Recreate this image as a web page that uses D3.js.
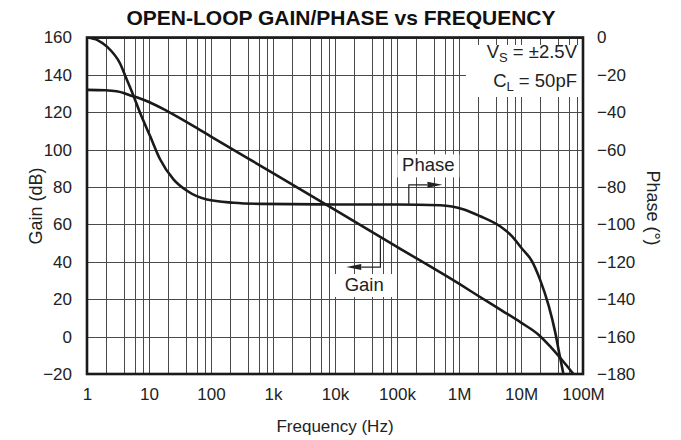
<!DOCTYPE html>
<html><head><meta charset="utf-8">
<script src="https://cdn.jsdelivr.net/npm/d3@7"></script>
<style>
html,body{margin:0;padding:0;background:#fff;}
svg{display:block;font-family:"Liberation Sans",Arial,Helvetica,sans-serif;}
</style></head>
<body>
<svg id="chart" width="681" height="440"></svg>
<script>
// ---- data ----
const title = "OPEN-LOOP GAIN/PHASE vs FREQUENCY";
const freqTicks = [1, 10, 100, 1e3, 1e4, 1e5, 1e6, 1e7, 1e8];
const freqTickLabels = ["1", "10", "100", "1k", "10k", "100k", "1M", "10M", "100M"];
const gainTicks = [-20, 0, 20, 40, 60, 80, 100, 120, 140, 160];
const phaseTicks = [-180, -160, -140, -120, -100, -80, -60, -40, -20, 0];
const minorMultipliers = [2, 4, 6, 8];

const gainFreq = [1, 2, 3, 4, 5, 7, 10, 20, 50, 100, 1e3, 1e4, 1e5, 1e6, 2e6, 5e6, 1e7, 2e7, 3e7, 5e7, 7e7];
const gainDb   = [132, 131.8, 131.2, 130.2, 129, 127.5, 125.5, 120.5, 113, 107, 87.5, 67.8, 48, 28.3, 22, 13.8, 7.5, 0.5, -5.5, -14, -20];

const phaseFreq = [1, 1.5, 2.1, 3.4, 4.2, 5.3, 7.2, 10.5, 15, 25, 41, 86, 230, 630, 1e4, 1e5, 5e5, 1.2e6, 2.2e6, 4.6e6, 7e6, 1.04e7, 1.5e7, 2e7, 2.8e7, 3.56e7, 4.2e7, 4.8e7];
const phaseDeg  = [0, -1.5, -4.9, -13.8, -21, -29, -40.4, -53, -65, -76, -82, -86.7, -88.4, -89, -89.3, -89.3, -89.7, -92, -95.6, -101, -106, -113, -119.6, -129, -143.6, -157.6, -170, -179.5];

const conditions = ["V|S| = ±2.5V", "C|L| = 50pF"];
// annotation anchors (data units)
const phaseArrow = {f0: 1.55e5, v0: -89.4, v1: -78.8, f1: 5.4e5, label: "Phase", lf: 3.2e5, lv: -71.6};
const gainArrow  = {f0: 5.4e4, v0: 52.5, v1: 37.2, f1: 1.52e4, label: "Gain", lf: 2.96e4, lv: 24.4};

// ---- layout ----
const X0 = 87, X1 = 583, Y0 = 37.5, Y1 = 374;
const svg = d3.select("#chart");
const x = d3.scaleLog().domain([1, 1e8]).range([X0, X1]);
const yG = d3.scaleLinear().domain([-20, 160]).range([Y1, Y0]);
const yP = d3.scaleLinear().domain([-180, 0]).range([Y1, Y0]);

const minus = s => String(s).replace("-", "\u2212");
const gridColor = "#4a4a4a";

// grid vertical
const vLines = [];
for (let k = 0; k < 8; k++) {
  vLines.push(freqTicks[k]);
  minorMultipliers.forEach(m => vLines.push(m * freqTicks[k]));
}
svg.append("g").selectAll("line").data(vLines).join("line")
  .attr("x1", d => Math.round(x(d)) + 0.5).attr("x2", d => Math.round(x(d)) + 0.5)
  .attr("y1", Y0).attr("y2", Y1)
  .attr("stroke", gridColor).attr("stroke-width", 1);
svg.append("g").selectAll("line").data(gainTicks).join("line")
  .attr("x1", X0).attr("x2", X1)
  .attr("y1", d => Math.round(yG(d)) + 0.5).attr("y2", d => Math.round(yG(d)) + 0.5)
  .attr("stroke", gridColor).attr("stroke-width", 1);

// white label boxes
const box = (x0, y0, w, h) => svg.append("rect").attr("x", x0).attr("y", y0).attr("width", w).attr("height", h).attr("fill", "#fff");
box(466, 45, X1 - 467, 52);

// curves
const clip = svg.append("clipPath").attr("id", "plotclip").append("rect")
  .attr("x", X0).attr("y", Y0).attr("width", X1 - X0).attr("height", Y1 - Y0);
const gainData = gainFreq.map((f, i) => [f, gainDb[i]]);
const phaseData = phaseFreq.map((f, i) => [f, phaseDeg[i]]);
svg.append("path").datum(gainData)
  .attr("clip-path", "url(#plotclip)")
  .attr("d", d3.line().x(d => x(d[0])).y(d => yG(d[1])).curve(d3.curveMonotoneX))
  .attr("fill", "none").attr("stroke", "#1a1a1a").attr("stroke-width", 2.6);
svg.append("path").datum(phaseData)
  .attr("clip-path", "url(#plotclip)")
  .attr("d", d3.line().x(d => x(d[0])).y(d => yP(d[1])).curve(d3.curveMonotoneX))
  .attr("fill", "none").attr("stroke", "#1a1a1a").attr("stroke-width", 2.6);

// annotations
function annotate(a, yS, dir) {
  const lx = x(a.lf), ly = yS(a.lv);
  box(lx - 31, ly - 17, 62, 23);
  svg.append("text").attr("x", lx).attr("y", ly).attr("text-anchor", "middle")
    .attr("font-size", 18.5).attr("fill", "#222").text(a.label);
  const xa = x(a.f0), ya = yS(a.v0), yb = yS(a.v1), xb = x(a.f1);
  const headLen = 15;
  const xh = xb - dir * headLen;
  svg.append("path").attr("d", `M${xa},${ya}V${yb}H${xh}`)
    .attr("fill", "none").attr("stroke", "#222").attr("stroke-width", 1.2);
  svg.append("path").attr("d", `M${xb},${yb}L${xh},${yb - 3}L${xh},${yb + 3}Z`).attr("fill", "#222");
}
annotate(phaseArrow, yP, 1);
annotate(gainArrow, yG, -1);

// border
svg.append("rect").attr("x", X0).attr("y", Y0).attr("width", X1 - X0).attr("height", Y1 - Y0)
  .attr("fill", "none").attr("stroke", "#1a1a1a").attr("stroke-width", 2.6);

// conditions text
conditions.forEach((c, i) => {
  const parts = c.split("|");
  const t = svg.append("text").attr("x", 577).attr("y", 58 + i * 28.5)
    .attr("text-anchor", "end").attr("font-size", 18.5).attr("fill", "#222");
  t.append("tspan").text(parts[0]);
  t.append("tspan").attr("font-size", 13).attr("dy", 4).text(parts[1]);
  t.append("tspan").attr("dy", -4).text(parts[2]);
});

// axes
const axL = svg.append("g").attr("transform", `translate(${X0},0)`)
  .call(d3.axisLeft(yG).tickValues(gainTicks).tickSize(0).tickPadding(15).tickFormat(minus));
const axR = svg.append("g").attr("transform", `translate(${X1},0)`)
  .call(d3.axisRight(yP).tickValues(phaseTicks).tickSize(0).tickPadding(14).tickFormat(minus));
const axB = svg.append("g").attr("transform", `translate(0,${Y1})`)
  .call(d3.axisBottom(x).tickValues(freqTicks).tickSize(0).tickPadding(14)
    .tickFormat((d, i) => freqTickLabels[i]));
[axL, axR, axB].forEach(g => {
  g.select(".domain").remove();
  g.selectAll("text").attr("font-size", 17).attr("fill", "#222")
    .attr("font-family", '"Liberation Sans",Arial,sans-serif');
});

// titles
svg.append("text").attr("x", 341).attr("y", 25).attr("text-anchor", "middle")
  .attr("font-size", 21).attr("font-weight", "bold").attr("fill", "#111").text(title);
svg.append("text").attr("transform", "translate(42,206) rotate(-90)").attr("text-anchor", "middle")
  .attr("font-size", 18).attr("fill", "#222").text("Gain (dB)");
svg.append("text").attr("transform", "translate(647,208) rotate(90)").attr("text-anchor", "middle")
  .attr("font-size", 18).attr("fill", "#222").text("Phase (°)");
svg.append("text").attr("x", 335).attr("y", 432).attr("text-anchor", "middle")
  .attr("font-size", 17).attr("fill", "#222").text("Frequency (Hz)");
</script>
</body></html>
